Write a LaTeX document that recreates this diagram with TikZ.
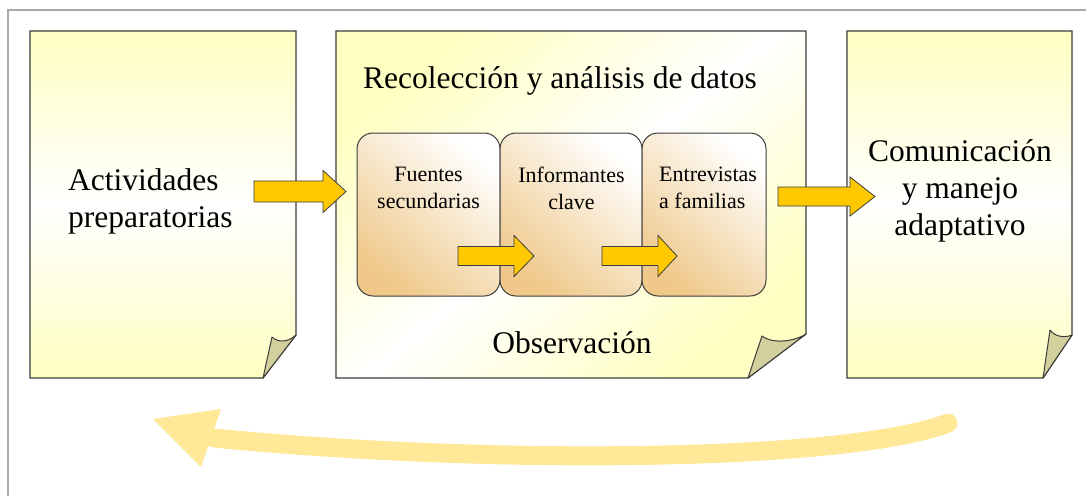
\documentclass[tikz,border=0pt]{standalone}
\usepackage{fontspec}
\setmainfont{Liberation Serif}
\definecolor{noteyel}{HTML}{FFFFC2}
\definecolor{flapcol}{HTML}{D3D09E}
\definecolor{arrowyel}{HTML}{FFC800}
\definecolor{tancol}{HTML}{EFC88A}
\definecolor{bandyel}{HTML}{FFE998}
\definecolor{framegray}{HTML}{A8A8A8}
\definecolor{edgecol}{HTML}{3C3C3C}
\tikzset{
  notebox/.style={draw=edgecol, line width=1.2},
  flapbox/.style={draw=edgecol, line width=1, fill=flapcol, line join=round},
  innerbox/.style={draw=edgecol, line width=1, rounded corners=16, top color=white, middle color=white!82!tancol, bottom color=tancol, shading angle=-40},
  blockarr/.style={fill=arrowyel, draw=edgecol, line width=0.8},
  bigtxt/.style={font=\fontsize{31.5}{37}\selectfont, inner sep=0pt, text=black},
  smalltxt/.style={font=\fontsize{22}{27}\selectfont, inner sep=0pt, text=black},
}
\newcommand\bkarrow[6]{\path[blockarr] (#1,#4-#5) -- (#2,#4-#5) -- (#2,#4-#6) -- (#3,#4) -- (#2,#4+#6) -- (#2,#4+#5) -- (#1,#4+#5) -- cycle;}
\begin{document}
\begin{tikzpicture}[x=1pt,y=-1pt]
\useasboundingbox (0,0) rectangle (1086,496);
\fill[white] (0,0) rectangle (1086,496);
\draw[framegray, line width=1.3] (8,496) -- (8,10) -- (1086,10);
% note 1
\path[notebox, top color=noteyel, bottom color=noteyel, middle color=white]
  (30,31) -- (296,31) -- (296,335) -- (263,378) -- (30,378) -- cycle;
\path[flapbox] (263,378) -- (272,337) .. controls (278,343) and (289,342) .. (296,335) -- cycle;
% note 2
\path[notebox, top color=noteyel, bottom color=noteyel, middle color=white, shading angle=40]
  (336,31) -- (806,31) -- (806,334) -- (748,378) -- (336,378) -- cycle;
\path[flapbox] (748,378) -- (762,336) .. controls (770,343) and (792,343) .. (806,334) -- cycle;
% note 3
\path[notebox, top color=noteyel, bottom color=noteyel, middle color=white]
  (847,31) -- (1072,31) -- (1072,335) -- (1043,378) -- (847,378) -- cycle;
\path[flapbox] (1043,378) -- (1050,330) .. controls (1055,337) and (1065,338) .. (1072,335) -- cycle;
% inner boxes
\path[innerbox] (357,133) rectangle (500,296);
\path[innerbox] (500,133) rectangle (642,296);
\path[innerbox] (642,133) rectangle (766,296);
% texts
\node[bigtxt, anchor=base west] (title) at (363,88) {Recolección y análisis de datos};
\node[bigtxt, anchor=base] (obs) at (572,353) {Observación};
\node[bigtxt, align=left, anchor=west] (act) at (68,201.5) {Actividades\\preparatorias};
\node[bigtxt, align=center] (com) at (960,191) {Comunicación\\y manejo\\adaptativo};
\node[smalltxt, align=center] (fue) at (428.5,188) {Fuentes\\secundarias};
\node[smalltxt, align=center] (inf) at (571.5,188) {Informantes\\clave};
\node[smalltxt, align=left, anchor=west] (ent) at (659,188) {Entrevistas\\a familias};
% block arrows
\bkarrow{254}{323}{346}{191.5}{10.5}{21}
\bkarrow{778}{850}{875}{196.5}{9.5}{19.5}
\bkarrow{458}{514}{534}{256}{9.5}{20.5}
\bkarrow{602}{658}{677}{256}{9.5}{20.5}
% bottom return arrow
\coordinate (rs) at (948,423);
\coordinate (re) at (214,438);
\draw[bandyel, line width=19, line cap=round] (rs) .. controls (850,461) and (500,466) .. (re);
\fill[bandyel] (153,419) -- (221,409) -- (201,467) -- cycle;
\end{tikzpicture}
\end{document}
